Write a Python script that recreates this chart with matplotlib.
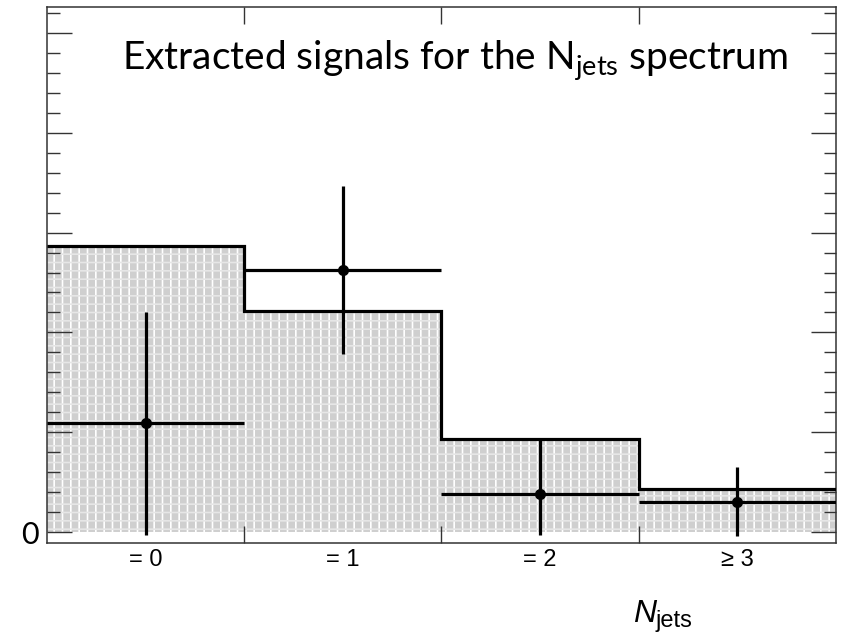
import numpy as np
import matplotlib
matplotlib.use("Agg")
import matplotlib.pyplot as plt
from matplotlib.ticker import MultipleLocator, FixedLocator, NullFormatter
from matplotlib.transforms import blended_transform_factory

# Jet-multiplicity bins
categories = ["= 0", "= 1", "= 2", "\u2265 3"]
# Expected (stacked histogram) yields per bin
expected = [28.7, 22.1, 9.35, 4.3]
# Extracted signal yields with lower / upper uncertainties
signal = [10.9, 26.3, 3.85, 3.0]
err_low = [11.2, 8.5, 4.15, 3.4]
err_high = [11.1, 8.4, 5.5, 3.5]

plt.rcParams["mathtext.fontset"] = "custom"
plt.rcParams["mathtext.rm"] = "Lato"
plt.rcParams["mathtext.it"] = "Lato:italic"
plt.rcParams["hatch.linewidth"] = 1.2

fig = plt.figure(figsize=(8.41, 6.39), dpi=100)
ax = fig.add_axes([0.0559, 0.1502, 0.9381, 0.8388])

n = len(categories)
edges = np.arange(n + 1, dtype=float)
centers = edges[:-1] + 0.5

# shaded histogram body with a fine white grid pattern
ax.stairs(expected, edges, baseline=0, fill=True, facecolor="#cfcfcf",
          edgecolor="white", hatch="||", linewidth=0, zorder=1)
ax.stairs(expected, edges, baseline=0, fill=True, facecolor="none",
          edgecolor="#e6e6e6", hatch="--", linewidth=0, zorder=1.1)
# histogram outline
ax.stairs(expected, edges, baseline=None, color="black", linewidth=2.3, zorder=3)

# extracted signal points
ax.errorbar(centers, signal, xerr=0.5, yerr=[err_low, err_high], fmt="o",
            color="black", markersize=7, elinewidth=2.3, capsize=0, zorder=4)

ax.set_xlim(edges[0], edges[-1])
ax.set_ylim(-1.1, 52.6)

# bin-edge ticks
ax.xaxis.set_major_locator(FixedLocator(edges[1:-1]))
ax.xaxis.set_major_formatter(NullFormatter())
ax.tick_params(axis="x", which="major", direction="in", length=12, width=1.0,
               top=True, bottom=True, color="#333333")

# category labels centred under each bin
trans = blended_transform_factory(ax.transData, ax.transAxes)
for c, lab in zip(centers, categories):
    ax.text(c, -0.012, lab, transform=trans, ha="center", va="top",
            fontsize=17, family="Liberation Sans", color="black")

ax.yaxis.set_major_locator(MultipleLocator(10))
ax.yaxis.set_minor_locator(MultipleLocator(2))
ax.yaxis.set_major_formatter(plt.FuncFormatter(lambda v, p: "0" if abs(v) < 1e-9 else ""))
ax.tick_params(axis="y", which="major", direction="in", length=18, width=1.0,
               left=True, right=True, color="#333333", pad=6, labelsize=22,
               labelfontfamily="Lato")
ax.tick_params(axis="y", which="minor", direction="in", length=9, width=1.0,
               left=True, right=True, color="#333333")

for s in ax.spines.values():
    s.set_color("#333333")
    s.set_linewidth(1.1)

ax.text(0.095, 0.94, r"Extracted signals for the N$_{\mathrm{jets}}$ spectrum",
        transform=ax.transAxes, fontsize=28, family="Lato", ha="left", va="top")

# axis title: italic N with upright subscript
fig.text(0.7525, 0.027, "N", fontsize=23, style="italic",
         family="Liberation Sans", ha="left", va="baseline")
fig.text(0.7800, 0.019, "jets", fontsize=17, family="Liberation Sans",
         ha="left", va="baseline")

fig.savefig("out.png", dpi=100)
